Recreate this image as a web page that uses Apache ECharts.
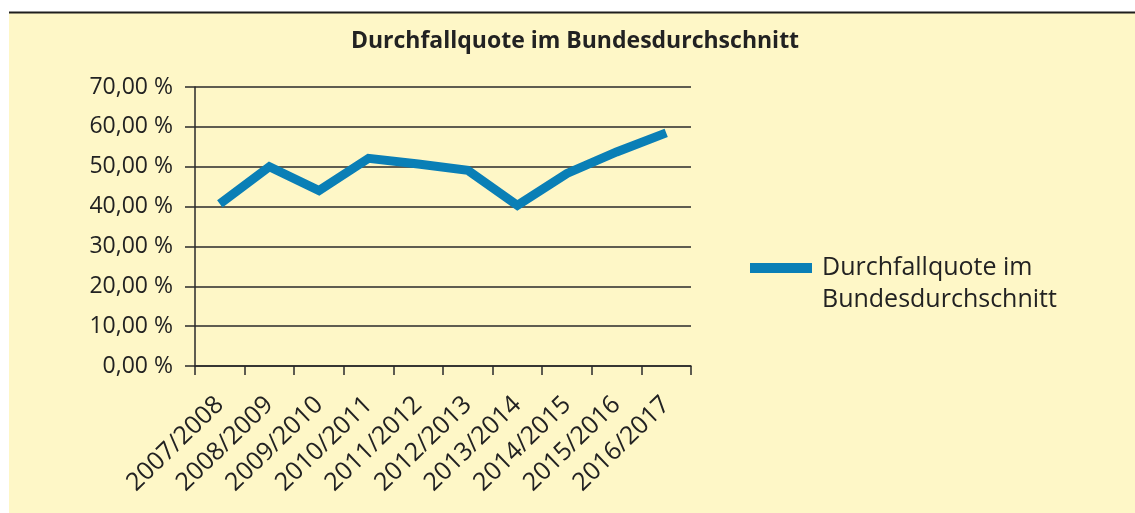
<!DOCTYPE html>
<html>
<head>
<meta charset="utf-8">
<script src="https://cdn.jsdelivr.net/npm/echarts@6/dist/echarts.min.js"></script>
<style>
html,body{margin:0;padding:0;background:#fff;}
#chart{width:1135px;height:513px;}
</style>
</head>
<body>
<div id="chart"></div>
<script>
const categories = ['2007/2008','2008/2009','2009/2010','2010/2011','2011/2012','2012/2013','2013/2014','2014/2015','2015/2016','2016/2017'];
const seriesName = 'Durchfallquote im Bundesdurchschnitt';
const values = [40.7, 50.0, 44.0, 52.1, 50.7, 49.1, 40.3, 48.3, 53.7, 58.5];
const yTicks = [0, 10, 20, 30, 40, 50, 60, 70];

const FONT = '"Open Sans", "Noto Sans", sans-serif';
const chart = echarts.init(document.getElementById('chart'), null, {renderer: 'canvas'});
chart.setOption({
  backgroundColor: '#ffffff',
  animation: false,
  graphic: [
    {type: 'rect', z: -10, silent: true, shape: {x: 9, y: 13, width: 1126, height: 500}, style: {fill: '#fef7c7'}},
    {type: 'line', z: -9, silent: true, shape: {x1: 9, y1: 12.5, x2: 1135, y2: 12.5}, style: {stroke: '#1e1e1e', lineWidth: 2}}
  ],
  title: {
    text: 'Durchfallquote im Bundesdurchschnitt',
    left: 570, top: 25, textAlign: 'center',
    textStyle: {fontFamily: FONT, fontWeight: 'bold', fontSize: 23, color: '#222'}
  },
  legend: {
    left: 745, top: 215,
    icon: 'rect', itemWidth: 62, itemHeight: 10, itemGap: 5,
    formatter: function(){ return ' \nDurchfallquote im\nBundesdurchschnitt'; },
    textStyle: {fontFamily: FONT, fontSize: 25, color: '#222', lineHeight: 32, padding: [0, 0, 0, 5]},
    data: [seriesName]
  },
  grid: {left: 195, right: 444, top: 87, bottom: 147, containLabel: false},
  xAxis: {
    type: 'category',
    data: categories,
    boundaryGap: true,
    axisLine: {lineStyle: {color: '#2a2a2a', width: 1.5}},
    axisTick: {show: true, length: 9, alignWithLabel: false, lineStyle: {color: '#2a2a2a', width: 1.5}},
    axisLabel: {rotate: 44, interval: 0, margin: 35, fontFamily: FONT, fontSize: 25, color: '#222'}
  },
  yAxis: {
    type: 'value',
    min: yTicks[0], max: yTicks[yTicks.length - 1], interval: 10,
    axisLine: {show: true, lineStyle: {color: '#2a2a2a', width: 1.5}},
    axisTick: {show: true, length: 10, lineStyle: {color: '#2a2a2a', width: 1.5}},
    splitLine: {show: true, lineStyle: {color: '#2a2a2a', width: 1.5}},
    axisLabel: {
      margin: 22, fontFamily: FONT, fontSize: 23, color: '#222',
      formatter: function(v){ return v.toFixed(2).replace('.', ',') + ' %'; }
    }
  },
  series: [{
    name: seriesName,
    type: 'line',
    data: values,
    symbol: 'none',
    lineStyle: {color: '#0a7fb6', width: 9, join: 'miter', cap: 'butt'},
    itemStyle: {color: '#0a7fb6'}
  }]
});
</script>
</body>
</html>
